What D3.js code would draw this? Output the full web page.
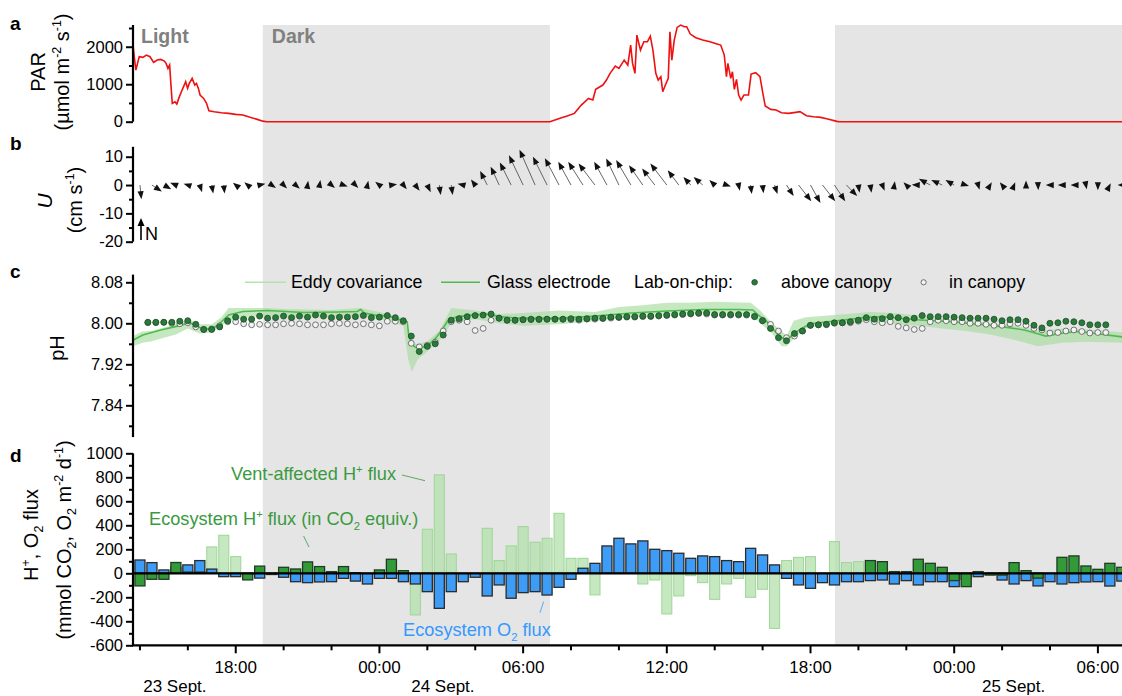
<!DOCTYPE html>
<html lang="en">
<head>
<meta charset="UTF-8">
<title>PAR, current, pH and flux time series</title>
<script src="https://cdn.jsdelivr.net/npm/d3@7/dist/d3.min.js"></script>
<style>
  body { margin: 0; background: #fff; }
  text { font-family: Arial, "Liberation Sans", sans-serif; }
</style>
</head>
<body>
<script>
// ---- data (time = hours after 23 Sept 00:00) ----
const darkPeriods = [[19.13, 31.12], [43.02, 55.09]];
const timeTicks = d3.range(14, 55, 2);
const dayLabels = [['23 Sept.', 15.46], ['24 Sept.', 26.65], ['25 Sept.', 50.48]];

// PAR, µmol m-2 s-1
const parReadings = [
  [13.71,2044],[13.77,1689],[13.83,1378],[13.90,1556],[13.97,1733],[14.12,1716],[14.27,1778],
  [14.42,1733],[14.57,1582],[14.72,1644],[14.87,1662],[15.02,1618],[15.09,1556],[15.17,1422],
  [15.24,1511],[15.29,1022],[15.35,489],[15.46,533],[15.54,471],[15.62,622],[15.76,844],
  [15.91,1067],[15.99,889],[16.06,1022],[16.18,1156],[16.29,978],[16.36,1022],[16.44,889],
  [16.51,711],[16.66,622],[16.78,489],[16.88,293],[17.10,267],[17.40,240],[17.70,222],
  [18.00,196],[18.30,178],[18.60,116],[18.90,62],[19.13,15],[19.3,0],[31.12,0],
  [31.54,89],[31.84,151],[32.14,222],[32.43,444],[32.73,622],[32.91,578],[33.03,862],
  [33.33,978],[33.48,1111],[33.63,1289],[33.85,1484],[34.00,1422],[34.22,1644],[34.37,1511],
  [34.49,2044],[34.57,1556],[34.67,1289],[34.75,2311],[34.90,1911],[35.04,2133],[35.19,2133],
  [35.31,2284],[35.42,1911],[35.54,1289],[35.64,1111],[35.75,1200],[35.83,800],[35.94,978],
  [36.06,1156],[36.13,2400],[36.21,1644],[36.31,2178],[36.43,2516],[36.58,2578],[36.73,2533],
  [36.83,2533],[36.98,2338],[37.21,2240],[37.50,2178],[37.80,2133],[38.10,2071],[38.25,2044],
  [38.40,1778],[38.49,1200],[38.55,1556],[38.67,1156],[38.74,1333],[38.82,862],[38.91,1129],
  [39.00,711],[39.10,578],[39.22,711],[39.41,711],[39.52,1271],[39.71,1307],[39.89,1200],
  [40.01,756],[40.11,418],[40.34,329],[40.56,311],[40.79,240],[41.08,222],[41.38,249],
  [41.56,267],[41.83,160],[42.13,133],[42.43,116],[42.72,71],[43.10,9],[43.2,0],[55.09,0]
];

// current vectors, half-hourly, cm s-1 (east, north)
const windHours = d3.range(14, 55.01, 0.5);
const windU = [0.5,3.5,2.6,-2,-1.5,0.8,0.5,0.3,-1,-1.2,2,1.5,1.2,1.5,0.2,0.3,1.2,1.5,1,0.3,
  -1.5,2,1.2,1.5,1.2,0.5,0.5,-2,-1.5,-2.5,-3,-4,-5,-5.5,-5,-5,-4.5,-5.2,-5.8,-4.5,
  -4.5,-5.2,-4.9,-4.5,-5.8,-3.9,-2.6,-3.2,-1.9,1.5,0.4,0.4,0.3,1,2.5,4.5,3.5,4.5,3.8,3.8,
  0.4,0.4,0.8,0.2,-1,-2.3,-4,-3.9,-3.1,1,0.5,0.6,-0.8,0.4,0,0.1,-1.5,-1.5,-1.2,0.3,
  0,0.3,-1.5];
const windV = [-5,-2.3,-1.5,0.8,0.5,-2.5,-3,-3,0.8,1,0.5,-1,-1.2,-1.3,1.5,1.8,-1,-0.5,-1,1.5,
  1.2,0.3,-1.5,-2,-2.5,-3.5,-3.5,0.5,2,5,6.5,8,10.5,12.5,10,9.5,8.2,8.2,7.6,8.2,
  9.4,8.8,7,5.8,7.6,5.2,2.8,2.8,1.8,-0.5,-2,-3.2,-2.9,-3.2,-3.9,-5.7,-6.3,-5.7,-5.7,-3.9,
  -2.7,-2.7,-2,1.3,1,0.1,2.2,1.8,1.8,-0.3,-1.7,1,1,1,1.6,-1.8,0,0,0,-1.5,
  -1.8,0.6,0];

// pH, glass electrode
const glassReadings = [
  [13.71,7.967],[14.12,7.977],[14.87,7.987],[15.62,7.995],[16.06,8.001],[16.29,7.997],[16.51,7.992],
  [16.73,7.988],[17.11,7.992],[17.40,8.003],[17.70,8.016],[18.30,8.023],[19.34,8.025],[20.83,8.021],
  [22.33,8.022],[23.07,8.023],[23.22,8.027],[23.37,8.020],[23.82,8.016],[24.41,8.014],[24.71,8.009],
  [25.16,8.003],[25.23,7.974],[25.46,7.954],[25.68,7.951],[26.05,7.958],[26.35,7.971],[26.65,7.990],
  [26.87,8.006],[27.25,8.013],[27.84,8.016],[28.44,8.018],[29.04,8.013],[29.78,8.010],[30.53,8.010],
  [31.54,8.010],[33.03,8.014],[34.52,8.020],[36.01,8.024],[37.50,8.027],[38.99,8.027],[39.59,8.026],
  [39.82,8.016],[40.11,8.007],[40.41,7.990],[40.71,7.974],[41.01,7.967],[41.23,7.977],[41.53,7.987],
  [41.98,7.999],[42.72,8.003],[43.47,8.007],[44.21,8.011],[44.96,8.013],[45.71,8.010],[46.45,8.007],
  [47.20,8.005],[47.94,8.003],[48.69,7.999],[49.43,7.997],[50.18,7.992],[50.93,7.987],[51.52,7.979],
  [51.82,7.975],[52.42,7.980],[53.16,7.984],[53.91,7.980],[54.92,7.974],[55.09,7.973]
];

// pH, eddy covariance sensor: [time, low, high]
const eddyRange = [
  [13.71,7.955,7.975],[14.1,7.962,7.984],[14.5,7.965,7.985],[15.0,7.972,7.992],[15.5,7.978,7.998],
  [16.0,7.990,8.008],[16.5,7.980,7.998],[17.0,7.982,7.998],[17.4,7.995,8.012],[17.7,8.005,8.030],
  [18.5,8.012,8.030],[19.3,8.014,8.030],[20.0,8.012,8.028],[21.0,8.012,8.027],[22.0,8.012,8.026],
  [23.2,8.015,8.030],[24.0,8.008,8.022],[25.0,7.995,8.010],[25.2,7.930,7.990],[25.35,7.905,7.960],
  [25.6,7.930,7.960],[26.0,7.945,7.965],[26.5,7.965,7.985],[27.0,8.000,8.030],[28.0,8.008,8.025],
  [29.0,8.000,8.018],[30.0,7.995,8.020],[31.5,7.998,8.025],[33.0,8.004,8.022],[34.0,8.010,8.032],
  [35.0,8.015,8.035],[36.0,8.018,8.040],[37.0,8.020,8.040],[38.0,8.020,8.042],[39.5,8.018,8.040],
  [39.9,8.000,8.025],[40.4,7.980,8.000],[40.8,7.955,7.985],[41.0,7.955,7.975],[41.3,7.970,8.005],
  [41.8,7.990,8.012],[42.5,7.997,8.014],[43.5,8.000,8.018],[44.5,8.003,8.022],[45.5,7.998,8.020],
  [46.5,7.995,8.015],[47.5,7.990,8.010],[48.5,7.985,8.005],[49.5,7.978,8.000],[50.5,7.968,7.995],
  [51.5,7.955,7.985],[52.5,7.962,7.990],[53.5,7.964,7.988],[55.09,7.962,7.982]
];

// pH, lab-on-chip, 20-min samples from 14:20 on 23 Sept
const chipHours = d3.range(121).map(i => 14.33 + i / 3);
const chipAbove = [8.002,8.002,8.002,8.002,8.004,8.005,7.998,7.988,7.988,7.993,
  8.005,8.012,8.008,8.008,8.014,8.010,8.011,8.014,8.011,8.014,
  8.012,8.016,8.014,8.011,8.012,8.012,8.013,8.015,8.011,8.012,
  8.015,8.011,8.005,7.975,7.945,7.955,7.960,7.977,8.006,8.009,
  8.013,8.015,8.016,8.018,8.010,8.006,8.006,8.007,8.008,8.008,
  8.008,8.008,8.008,8.009,8.008,8.009,8.010,8.010,8.012,8.012,
  8.013,8.013,8.014,8.014,8.015,8.016,8.017,8.018,8.019,8.020,
  8.020,8.017,8.017,8.017,8.017,8.017,8.013,8.005,7.990,7.972,
  7.966,7.980,7.985,7.996,7.997,7.998,8.001,8.001,8.003,8.006,
  8.011,8.008,8.009,8.013,8.011,8.007,8.010,8.015,8.013,8.013,
  8.013,8.012,8.011,8.010,8.010,8.010,8.008,8.005,8.007,8.007,
  8.004,7.996,7.991,8.000,8.001,8.004,8.003,8.001,7.997,7.997,7.997];
const chipIn = [8.001,8.001,8.002,8.000,7.999,8.001,7.993,7.988,7.989,7.995,
  8.003,8.003,7.999,7.997,7.998,7.997,7.997,7.999,8.000,7.999,
  7.997,7.997,7.997,7.999,8.000,7.999,7.997,7.999,7.997,7.995,
  8.004,8.004,8.003,7.961,7.954,7.957,7.963,7.985,8.003,8.006,
  8.003,7.986,7.990,8.006,8.010,8.006,8.006,8.007,8.007,8.007,
  8.008,8.008,8.008,8.007,8.006,8.008,8.008,8.009,8.010,8.011,
  8.012,8.012,8.013,8.013,8.014,8.015,8.016,8.017,8.018,8.019,
  8.018,8.016,8.016,8.016,8.016,8.016,8.014,8.006,7.998,7.985,
  7.972,7.975,7.985,7.996,7.997,7.997,8.000,8.001,8.001,8.004,
  8.007,8.003,8.001,8.003,7.994,7.991,7.988,7.990,8.003,8.006,
  8.005,8.003,8.003,8.000,8.000,7.998,7.996,7.996,7.999,8.000,
  7.996,7.990,7.987,7.981,7.982,7.985,7.987,7.984,7.981,7.982,7.982];

// fluxes, 30-min bins, mmol m-2 d-1
const fluxHours = d3.range(14, 55.01, 0.5);
const o2Flux = [111,89,28,50,70,106,35,-28,-28,-10,-40,-10,-33,-70,-78,-72,-70,-42,-65,-89,
  -42,-42,-70,-89,-153,-292,-153,-70,-33,-189,-97,-208,-161,-153,-181,-117,-50,42,83,228,
  292,245,270,200,189,167,125,145,139,106,97,208,153,70,-42,-97,-125,-78,-97,-70,
  -70,-61,-56,-89,-61,-97,-70,-70,-111,-50,-28,-5,-56,-89,-61,-105,-70,-89,-78,-72,
  -70,-106,-65];
const hEco = [-105,-50,-50,90,10,10,null,null,null,-55,60,-8,50,36,95,56,14,56,5,0,
  28,117,22,null,null,null,null,0,0,null,null,null,null,null,null,null,null,null,null,null,
  null,null,null,null,null,null,null,null,null,null,null,null,null,null,null,null,null,0,null,null,
  null,106,97,14,14,117,83,50,-61,-111,14,-15,-15,89,22,-40,0,133,145,61,
  33,83,50];
const hVent = [null,null,null,null,null,null,220,317,139,null,null,null,null,null,null,null,null,null,null,null,
  null,null,null,-347,367,820,161,null,null,375,106,228,389,259,292,500,125,125,-180,null,
  null,null,-89,-56,-339,-189,-20,-78,-217,-89,-42,-200,-133,-459,106,133,139,null,264,89,
  97,null,null,null,null,null,null,null,null,null,null,null,null,null,null,null,null,null,null,null,
  null,null,null];

// ---- layout ----
const W = 1122, H = 696;
const svg = d3.select('body').append('svg').attr('width', W).attr('height', H);

const x = d3.scaleLinear().domain([13.71, 55.09]).range([133, 1124]);
const pxPerHour = x(1) - x(0);

const yA = d3.scaleLinear().domain([0, 2580]).range([121.7, 25]);
const yB = d3.scaleLinear().domain([-20, 13.5]).range([241.7, 146.8]);
const yC = d3.scaleLinear().domain([7.778, 8.095]).range([437.1, 274.6]);
const yD = d3.scaleLinear().domain([-600, 1000]).range([645.3, 453.3]);
const plotTop = 25, plotBottom = yD(-600);

svg.append('clipPath').attr('id', 'plot')
  .append('rect').attr('x', x.range()[0]).attr('y', 0).attr('width', W - x.range()[0]).attr('height', H);

// dark periods
svg.append('g').selectAll('rect')
  .data(darkPeriods)
  .enter().append('rect')
  .attr('x', d => x(d[0]))
  .attr('y', plotTop)
  .attr('width', d => x(d[1]) - x(d[0]))
  .attr('height', plotBottom - plotTop)
  .attr('fill', '#e5e5e5');

svg.append('text').text('Light').attr('x', 141).attr('y', 43)
  .attr('font-size', 19.5).attr('font-weight', 'bold').attr('fill', '#808080');
svg.append('text').text('Dark').attr('x', x(darkPeriods[0][0]) + 9).attr('y', 43)
  .attr('font-size', 19.5).attr('font-weight', 'bold').attr('fill', '#808080');

const plot = svg.append('g').attr('clip-path', 'url(#plot)');

// ---- panel a: PAR ----
plot.append('path')
  .datum(parReadings)
  .attr('fill', 'none')
  .attr('stroke', '#ee1111')
  .attr('stroke-width', 1.6)
  .attr('d', d3.line().x(d => x(d[0])).y(d => yA(d[1])));

// ---- panel b: current vectors ----
const k = yB(0) - yB(1);
const arrows = plot.append('g');
windHours.forEach((t, i) => {
  const x0 = x(t), y0 = yB(0);
  const x1 = x0 + windU[i] * k, y1 = y0 - windV[i] * k;
  const len = Math.hypot(x1 - x0, y1 - y0) || 1;
  const ux = (x1 - x0) / len, uy = (y1 - y0) / len;
  const hl = 8, hw = 3.1;
  arrows.append('line')
    .attr('x1', x0).attr('y1', y0).attr('x2', x1 - ux * hl * 0.6).attr('y2', y1 - uy * hl * 0.6)
    .attr('stroke', '#555').attr('stroke-width', 0.9);
  const bx = x1 - ux * hl, by = y1 - uy * hl;
  arrows.append('path')
    .attr('d', `M${x1},${y1}L${bx - uy * hw},${by + ux * hw}L${bx + uy * hw},${by - ux * hw}Z`)
    .attr('fill', '#111');
});

// north arrow
svg.append('line').attr('x1', 141).attr('y1', 240).attr('x2', 141).attr('y2', 224)
  .attr('stroke', '#000').attr('stroke-width', 1.6);
svg.append('path').attr('d', 'M141,218L137.5,226L144.5,226Z').attr('fill', '#000');
svg.append('text').text('N').attr('x', 145).attr('y', 240).attr('font-size', 18);

// ---- panel c: pH ----
plot.append('path')
  .datum(eddyRange)
  .attr('fill', '#a6dca0')
  .attr('fill-opacity', 0.65)
  .attr('d', d3.area().x(d => x(d[0])).y0(d => yC(d[1])).y1(d => yC(d[2])));

plot.append('path')
  .datum(glassReadings)
  .attr('fill', 'none')
  .attr('stroke', '#4dbb4d')
  .attr('stroke-width', 1.6)
  .attr('d', d3.line().x(d => x(d[0])).y(d => yC(d[1])));

plot.append('g').selectAll('circle')
  .data(chipIn)
  .enter().append('circle')
  .attr('cx', (d, i) => x(chipHours[i]))
  .attr('cy', d => yC(d))
  .attr('r', 2.9)
  .attr('fill', '#f2f2f2')
  .attr('stroke', '#555')
  .attr('stroke-width', 0.8);

plot.append('g').selectAll('circle')
  .data(chipAbove)
  .enter().append('circle')
  .attr('cx', (d, i) => x(chipHours[i]))
  .attr('cy', d => yC(d))
  .attr('r', 3)
  .attr('fill', '#2a7a3c')
  .attr('stroke', '#1d4d26')
  .attr('stroke-width', 0.8);

// legend
const lg = svg.append('g').attr('font-size', 17.8);
const ly = yC(8.08);
lg.append('line').attr('x1', 245).attr('x2', 286).attr('y1', ly).attr('y2', ly)
  .attr('stroke', '#b5e3b0').attr('stroke-width', 1.6);
lg.append('text').text('Eddy covariance').attr('x', 291).attr('y', ly + 6);
lg.append('line').attr('x1', 441).attr('x2', 480).attr('y1', ly).attr('y2', ly)
  .attr('stroke', '#4dbb4d').attr('stroke-width', 1.6);
lg.append('text').text('Glass electrode').attr('x', 487).attr('y', ly + 6);
lg.append('text').text('Lab-on-chip:').attr('x', 634).attr('y', ly + 6);
lg.append('circle').attr('cx', 754.6).attr('cy', ly).attr('r', 2.8)
  .attr('fill', '#2a7a3c').attr('stroke', '#1d4d26').attr('stroke-width', 0.8);
lg.append('text').text('above canopy').attr('x', 781).attr('y', ly + 6);
lg.append('circle').attr('cx', 923.6).attr('cy', ly).attr('r', 2.6)
  .attr('fill', '#f2f2f2').attr('stroke', '#555').attr('stroke-width', 0.8);
lg.append('text').text('in canopy').attr('x', 949).attr('y', ly + 6);

// ---- panel d: fluxes ----
const barW = 0.42 * pxPerHour;
function bars(values, fill, stroke, sw, opacity) {
  plot.append('g').selectAll('rect')
    .data(values.map((v, i) => [fluxHours[i], v]).filter(d => d[1] !== null))
    .enter().append('rect')
    .attr('x', d => x(d[0]) - barW / 2)
    .attr('width', barW)
    .attr('y', d => yD(Math.max(0, d[1])))
    .attr('height', d => Math.abs(yD(d[1]) - yD(0)))
    .attr('fill', fill)
    .attr('fill-opacity', opacity)
    .attr('stroke', stroke)
    .attr('stroke-width', sw);
}
bars(hVent, '#b3e0ab', '#9dd596', 1, 0.75);
bars(o2Flux, '#3d9cf5', '#2b2b2b', 1.3, 1);
bars(hEco, '#339a3a', '#1f3d22', 1.3, 1);

plot.append('line')
  .attr('x1', x.range()[0]).attr('x2', W)
  .attr('y1', yD(0)).attr('y2', yD(0))
  .attr('stroke', '#000').attr('stroke-width', 2.2);

// annotations
const green = '#3a9a3f', blue = '#3399ff';
function rich(g, parts, xx, yy, color, size) {
  const t = g.append('text').attr('x', xx).attr('y', yy).attr('fill', color).attr('font-size', size);
  let shift = 0;
  parts.forEach(p => {
    const s = p[1] === 'sup' ? -0.4 * size : p[1] === 'sub' ? 0.25 * size : 0;
    t.append('tspan').text(p[0])
      .attr('dy', s - shift)
      .attr('font-size', p[1] ? size * 0.62 : size);
    shift = s;
  });
  return t;
}
rich(svg, [['Vent-affected H'], ['+', 'sup'], [' flux']], 231, 480, green, 18.2);
svg.append('line').attr('x1', 402).attr('y1', 475).attr('x2', 425).attr('y2', 480.7)
  .attr('stroke', green).attr('stroke-width', 0.8);
rich(svg, [['Ecosystem H'], ['+', 'sup'], [' flux (in CO'], ['2', 'sub'], [' equiv.)']], 149, 525, green, 18.2);
svg.append('line').attr('x1', 303.6).attr('y1', 536).attr('x2', 309).attr('y2', 547)
  .attr('stroke', green).attr('stroke-width', 0.8);
rich(svg, [['Ecosystem O'], ['2', 'sub'], [' flux']], 403, 636, blue, 18.2);
svg.append('line').attr('x1', 540).attr('y1', 612.7).attr('x2', 543.6).attr('y2', 601.7)
  .attr('stroke', blue).attr('stroke-width', 0.8);

// ---- axes ----
function yAxis(scale, majors, minors, fmt) {
  const g = svg.append('g').attr('transform', `translate(${x.range()[0]},0)`);
  g.call(d3.axisLeft(scale).tickValues(majors).tickFormat(fmt).tickSize(7).tickPadding(3))
    .call(s => s.select('.domain').remove())
    .call(s => s.selectAll('line').attr('stroke-width', 2))
    .call(s => s.selectAll('text').attr('font-size', 16.5).attr('font-family', 'Arial, "Liberation Sans", sans-serif'));
  g.append('g').call(d3.axisLeft(scale).tickValues(minors).tickFormat('').tickSize(4))
    .call(s => s.select('.domain').remove())
    .call(s => s.selectAll('line').attr('stroke-width', 2));
  const r = scale.range();
  g.append('line').attr('x1', 0).attr('x2', 0).attr('y1', r[0]).attr('y2', r[1])
    .attr('stroke', '#000').attr('stroke-width', 2.2);
}
yAxis(yA, [0, 1000, 2000], [500, 1500, 2500], d3.format('d'));
yAxis(yB, [-20, -10, 0, 10], [-15, -5, 5], d => d < 0 ? '-' + Math.abs(d) : d);
yAxis(yC, [7.84, 7.92, 8.00, 8.08], [7.8, 7.88, 7.96, 8.04], d3.format('.2f'));
yAxis(yD, d3.range(-600, 1001, 200), d3.range(-500, 901, 200), d => d < 0 ? '-' + Math.abs(d) : d);

// x axis
const xa = svg.append('g').attr('transform', `translate(0,${plotBottom})`);
xa.append('line').attr('x1', x.range()[0] - 1).attr('x2', W).attr('y1', 0).attr('y2', 0)
  .attr('stroke', '#000').attr('stroke-width', 2.2);
xa.selectAll('line.tick').data(timeTicks).enter().append('line')
  .attr('x1', d => x(d)).attr('x2', d => x(d))
  .attr('y1', 0).attr('y2', d => d % 6 === 0 ? 8 : 5)
  .attr('stroke', '#000').attr('stroke-width', 2);
xa.selectAll('text.time').data(timeTicks.filter(d => d % 6 === 0)).enter().append('text')
  .attr('x', d => x(d)).attr('y', 28).attr('text-anchor', 'middle').attr('font-size', 17)
  .text(d => d3.format('02d')(d % 24) + ':00');
xa.selectAll('text.day').data(dayLabels).enter().append('text')
  .attr('x', d => x(d[1])).attr('y', 47).attr('text-anchor', 'middle').attr('font-size', 17)
  .text(d => d[0]);

// panel letters
[['a', 30], ['b', 150], ['c', 278], ['d', 462]].forEach(d => {
  svg.append('text').text(d[0]).attr('x', 10).attr('y', d[1])
    .attr('font-size', 19).attr('font-weight', 'bold');
});

// axis titles
function vtitle(parts, xx, yy, size, italic) {
  const t = rich(svg, parts, 0, 0, '#000', size)
    .attr('text-anchor', 'middle')
    .attr('transform', `translate(${xx},${yy}) rotate(-90)`);
  if (italic) t.attr('font-style', 'italic');
}
vtitle([['PAR']], 45, 72, 20);
vtitle([['(\u00b5mol m'], ['-2', 'sup'], [' s'], ['-1', 'sup'], [')']], 69, 72, 20);
vtitle([['U']], 52, 201, 21, true);
vtitle([['(cm s'], ['-1', 'sup'], [')']], 82, 200, 20);
vtitle([['pH']], 64, 348, 20);
vtitle([['H'], ['+', 'sup'], [', O'], ['2', 'sub'], [' flux']], 38, 535, 20);
vtitle([['(mmol CO'], ['2', 'sub'], [', O'], ['2', 'sub'], [' m'], ['-2', 'sup'], [' d'], ['-1', 'sup'], [')']], 71, 540, 20);
</script>
</body>
</html>
